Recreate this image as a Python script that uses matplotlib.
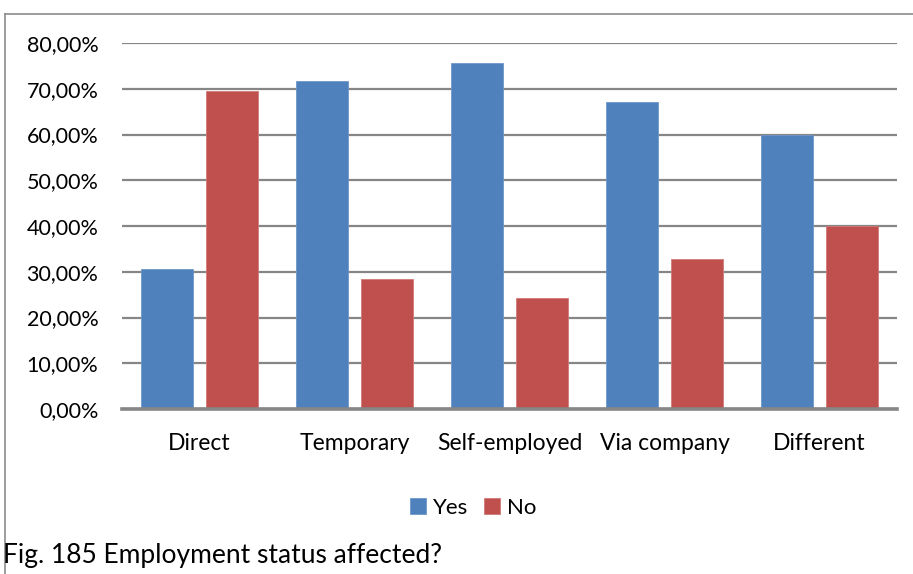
import matplotlib.pyplot as plt
import numpy as np
from matplotlib.lines import Line2D
from matplotlib.ticker import FuncFormatter

plt.rcParams['font.family'] = ['Lato', 'DejaVu Sans']

# Werte aus dem Diagramm
categories = ['Direct', 'Temporary', 'Self-employed', 'Via company', 'Different']
yes_vals = [30.5, 71.6, 75.7, 67.2, 60.0]
no_vals = [69.5, 28.4, 24.3, 32.8, 40.0]
y_ticks = [0, 10, 20, 30, 40, 50, 60, 70, 80]

BLUE = '#4F81BD'
RED = '#C0504D'
GRID = '#868686'

fig = plt.figure(figsize=(9.13, 5.74), dpi=100)
ax = fig.add_axes([122 / 913, 1 - 409 / 574, 775 / 913, 366 / 574])

x = np.arange(len(categories))
width = 0.33
off = 0.21
ax.bar(x - off, yes_vals, width, color=BLUE, edgecolor='#6F97C9', linewidth=0.6, zorder=3, label='Yes')
ax.bar(x + off, no_vals, width, color=RED, edgecolor='#D07A78', linewidth=0.6, zorder=3, label='No')

ax.set_xlim(-0.5, len(categories) - 0.5)
ax.set_ylim(0, 80)
ax.set_yticks(y_ticks)
ax.yaxis.set_major_formatter(FuncFormatter(lambda v, p: f'{v:.2f}%'.replace('.', ',')))
ax.set_xticks(x)
ax.set_xticklabels(categories)
ax.tick_params(axis='y', length=0, labelsize=15.5, colors='black', pad=17)
ax.tick_params(axis='x', length=0, labelsize=16.5, colors='black', pad=17)

ax.grid(axis='y', color=GRID, linewidth=1.6, zorder=0)
ax.set_axisbelow(True)
for s in ['top', 'right', 'left']:
    ax.spines[s].set_visible(False)
ax.spines['bottom'].set_color(GRID)
ax.spines['bottom'].set_linewidth(2.6)
ax.spines['bottom'].set_zorder(4)

# Legende unten
fig.legend(loc='center', bbox_to_anchor=(473 / 913, 1 - 508 / 574), ncol=2, frameon=False,
           fontsize=16, handlelength=0.75, handleheight=0.75, handletextpad=0.3,
           columnspacing=0.7)

# Rahmen (nur links und oben sichtbar)
fig.add_artist(Line2D([5 / 913, 5 / 913], [0, 1 - 14 / 574], transform=fig.transFigure,
                      color='#8C8C8C', linewidth=1.2))
fig.add_artist(Line2D([5 / 913, 1], [1 - 14 / 574, 1 - 14 / 574], transform=fig.transFigure,
                      color='#8C8C8C', linewidth=1.2))

fig.text(3 / 913, 1 - 555 / 574, 'Fig. 185 Employment status affected?', fontsize=19,
         ha='left', va='center', color='black')

fig.savefig('out.png', dpi=100, facecolor='white')
